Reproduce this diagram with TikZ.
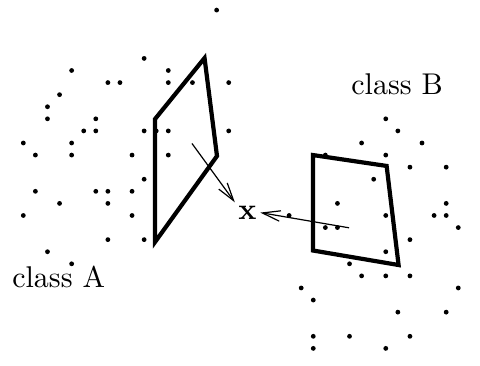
\documentclass[tikz,border=0pt]{standalone}
\usepackage{amsmath}
\usepackage{tikz}
\usetikzlibrary{arrows.meta}

\begin{document}
\begin{tikzpicture}[x=4.027pt,y=-4.027pt,every node/.style={font=\normalsize,align=center}]
\useasboundingbox (0.0704,0.1656) rectangle (39.80,30.38);
% samples of class A
\foreach \i/\j in {18/1,12/5,6/6,14/6,9/7,10/7,14/7,16/7,19/7,5/8,4/9,4/10,8/10,
  7/11,8/11,12/11,13/11,14/11,19/11,2/12,6/12,3/13,6/13,11/13,14/13,12/15,
  3/16,8/16,9/16,11/16,5/17,9/17,2/18,11/18,9/20,12/20,4/21,6/22}
  \fill (\i,\j) circle[radius=0.8pt];
% samples of class B
\foreach \i/\j in {32/10,33/11,30/12,35/12,27/13,32/13,34/14,37/14,31/15,28/17,37/17,
  24/18,32/18,36/18,37/18,27/19,28/19,38/19,34/20,32/21,29/22,30/23,32/23,34/23,
  25/24,38/24,26/25,33/26,37/26,26/28,29/28,34/28,26/29,32/29}
  \fill (\i,\j) circle[radius=0.8pt];
\draw[line width=1.4pt] (12.9,10.02)--(17,4.97)--(18.03,13.08)--(12.9,20.2)--cycle;
\draw[line width=1.4pt] (25.98,13)--(32.07,13.9)--(33.06,22.1)--(25.98,20.9)--cycle;
\node[anchor=base] (ca) at (4.93,24) {class A};
\node[anchor=base] (cb) at (32.94,8) {class B};
\node[inner sep=1pt] (xvec) at (20.56,17.76) {$\mathbf{x}$};
\coordinate (pa) at (15.96,12.04);
\coordinate (pb) at (28.96,19.02);
\draw[-{Straight Barb[length=6pt,width=3.5pt]},line width=0.4pt] (pa)--(xvec.north west);
\draw[-{Straight Barb[length=6pt,width=3.5pt]},line width=0.4pt] (pb)--(xvec.east);
\end{tikzpicture}
\end{document}
